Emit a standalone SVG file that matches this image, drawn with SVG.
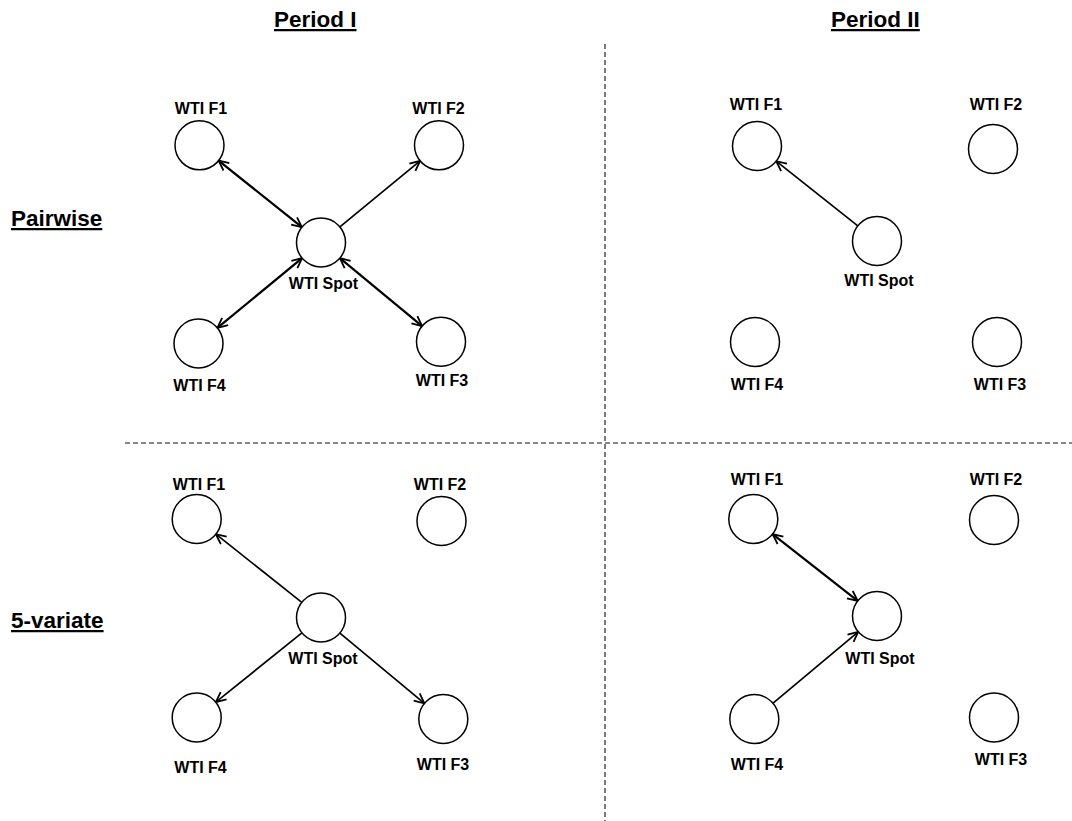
<svg xmlns="http://www.w3.org/2000/svg" width="1072" height="821" viewBox="0 0 1072 821">
  <style>
    .node circle { fill: #ffffff; stroke: #000000; stroke-width: 1.5; }
    .lbl { font-family: "Liberation Sans", Arial, sans-serif; font-weight: bold; font-size: 16px; fill: #000000; text-anchor: middle; }
    .head { font-family: "Liberation Sans", Arial, sans-serif; font-weight: bold; font-size: 22.5px; fill: #000000; text-decoration: underline; }
    .divider { stroke: #111111; stroke-width: 1.1; stroke-dasharray: 5 3; fill: none; }
    .edge { stroke: #000000; stroke-width: 1.7; fill: none; marker-end: url(#arrow); }
    .edge.both { stroke-width: 2.2; marker-start: url(#arrow); }
  </style>
  <defs>
    <marker id="arrow" viewBox="0 0 12 12" refX="11" refY="6" markerWidth="12" markerHeight="12" markerUnits="userSpaceOnUse" orient="auto-start-reverse">
      <path d="M1,1.3 L11,6 L1,10.7" fill="none" stroke="#000000" stroke-width="1.8"/>
    </marker>
  </defs>
  <rect width="1072" height="821" fill="#ffffff"/>

  <!-- quadrant dividers -->
  <g id="dividers">
    <line class="divider" x1="605" y1="44" x2="605" y2="821"/>
    <line class="divider" x1="125" y1="443" x2="1072" y2="443"/>
  </g>

  <!-- column and row headings -->
  <g id="headings">
    <text class="head" x="274" y="27">Period I</text>
    <text class="head" x="831" y="27">Period II</text>
    <text class="head" x="11" y="226">Pairwise</text>
    <text class="head" x="11" y="628">5-variate</text>
  </g>

  <!-- connectors -->
  <g id="connectors">
    <!-- Pairwise, Period I -->
    <line class="edge both" x1="218.6" y1="160.6" x2="301.9" y2="227.2"/>
    <line class="edge" x1="339.9" y1="226.9" x2="420.1" y2="160.9"/>
    <line class="edge both" x1="302.1" y1="258.1" x2="217.4" y2="327.9"/>
    <line class="edge both" x1="339.9" y1="258.1" x2="422.1" y2="326.1"/>
    <!-- Pairwise, Period II -->
    <line class="edge" x1="857.8" y1="225.8" x2="776.2" y2="161.2"/>
    <!-- 5-variate, Period I -->
    <line class="edge" x1="301.8" y1="602.3" x2="215.9" y2="534.2"/>
    <line class="edge" x1="301.9" y1="632.9" x2="215.8" y2="702.1"/>
    <line class="edge" x1="339.9" y1="633.2" x2="424.4" y2="703.3"/>
    <!-- 5-variate, Period II -->
    <line class="edge both" x1="772.6" y1="534.1" x2="857.7" y2="600.9"/>
    <line class="edge" x1="773.1" y1="703.2" x2="858.2" y2="631.8"/>
  </g>

  <!-- Pairwise, Period I -->
  <g id="p1-pair-f1" class="node"><circle cx="199.5" cy="145.3" r="24.5"/><text class="lbl" x="201" y="114">WTI F1</text></g>
  <g id="p1-pair-f2" class="node"><circle cx="439" cy="145.3" r="24.5"/><text class="lbl" x="438.5" y="114">WTI F2</text></g>
  <g id="p1-pair-spot" class="node"><circle cx="321" cy="242.5" r="24.5"/><text class="lbl" x="323.5" y="289">WTI Spot</text></g>
  <g id="p1-pair-f4" class="node"><circle cx="198.5" cy="343.5" r="24.5"/><text class="lbl" x="199.5" y="391">WTI F4</text></g>
  <g id="p1-pair-f3" class="node"><circle cx="441" cy="341.7" r="24.5"/><text class="lbl" x="442" y="386">WTI F3</text></g>

  <!-- Pairwise, Period II -->
  <g id="p2-pair-f1" class="node"><circle cx="757" cy="146" r="24.5"/><text class="lbl" x="756" y="110">WTI F1</text></g>
  <g id="p2-pair-f2" class="node"><circle cx="993" cy="149" r="24.5"/><text class="lbl" x="996" y="110">WTI F2</text></g>
  <g id="p2-pair-spot" class="node"><circle cx="877" cy="241" r="24.5"/><text class="lbl" x="879" y="286">WTI Spot</text></g>
  <g id="p2-pair-f4" class="node"><circle cx="755" cy="342" r="24.5"/><text class="lbl" x="757" y="390">WTI F4</text></g>
  <g id="p2-pair-f3" class="node"><circle cx="997" cy="342" r="24.5"/><text class="lbl" x="1000" y="390">WTI F3</text></g>

  <!-- 5-variate, Period I -->
  <g id="p1-multi-f1" class="node"><circle cx="196.7" cy="519" r="24.5"/><text class="lbl" x="199" y="490">WTI F1</text></g>
  <g id="p1-multi-f2" class="node"><circle cx="441.5" cy="521" r="24.5"/><text class="lbl" x="440" y="490">WTI F2</text></g>
  <g id="p1-multi-spot" class="node"><circle cx="321" cy="617.5" r="24.5"/><text class="lbl" x="323" y="664">WTI Spot</text></g>
  <g id="p1-multi-f4" class="node"><circle cx="196.7" cy="717.5" r="24.5"/><text class="lbl" x="200.5" y="773">WTI F4</text></g>
  <g id="p1-multi-f3" class="node"><circle cx="443.3" cy="719" r="24.5"/><text class="lbl" x="443" y="770">WTI F3</text></g>

  <!-- 5-variate, Period II -->
  <g id="p2-multi-f1" class="node"><circle cx="753.3" cy="519" r="24.5"/><text class="lbl" x="757" y="485">WTI F1</text></g>
  <g id="p2-multi-f2" class="node"><circle cx="994" cy="520" r="24.5"/><text class="lbl" x="996" y="485">WTI F2</text></g>
  <g id="p2-multi-spot" class="node"><circle cx="877" cy="616" r="24.5"/><text class="lbl" x="880" y="664">WTI Spot</text></g>
  <g id="p2-multi-f4" class="node"><circle cx="754.3" cy="719" r="24.5"/><text class="lbl" x="757" y="770">WTI F4</text></g>
  <g id="p2-multi-f3" class="node"><circle cx="994" cy="717.5" r="24.5"/><text class="lbl" x="1001" y="765">WTI F3</text></g>
</svg>
